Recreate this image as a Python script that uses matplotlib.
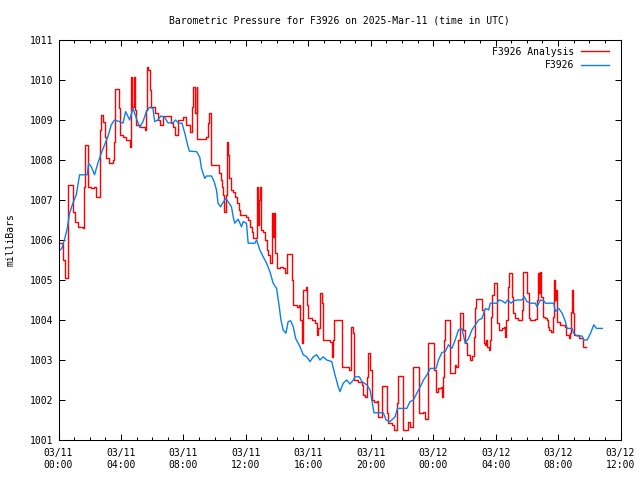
import numpy as np
import pandas as pd
import matplotlib
matplotlib.use("Agg")
import matplotlib.pyplot as plt
import matplotlib.dates as mdates

# hours after 2025-03-11 00:00 UTC, pressure in mb
obs_hours = [0.0, 0.21, 0.39, 0.56, 0.71, 0.92, 1.14, 1.35, 1.84, 1.93, 2.10, 2.31, 2.52, 2.74,
             2.95, 3.16, 3.38, 3.59, 3.91, 4.13, 4.30, 4.56, 4.77, 4.99, 5.20, 5.41, 5.63, 5.84,
             6.05, 6.16, 6.37, 6.55, 6.80, 7.01, 7.33, 7.49, 7.70, 7.91, 8.09, 8.30, 8.39, 8.84,
             9.05, 9.16, 9.37, 9.48, 9.80, 9.97, 10.12, 10.22, 10.38, 10.51, 10.72, 10.93, 11.08,
             11.19, 11.29, 11.51, 11.72, 11.83, 12.04, 12.15, 12.58, 12.69, 12.90, 13.11, 13.33,
             13.54, 13.75, 13.97, 14.14, 14.25, 14.39, 14.57, 14.71, 14.87, 15.04, 15.19, 15.47,
             15.68, 15.90, 16.11, 16.32, 16.54, 16.75, 16.96, 17.18, 17.50, 17.71, 17.92, 18.03,
             18.24, 18.46, 18.67, 18.89, 18.99, 19.27, 19.43, 19.75, 19.96, 20.07, 20.21, 20.81,
             20.98, 21.24, 21.56, 21.71, 22.31, 22.52, 22.74, 22.95, 23.17, 23.38, 23.60, 23.81,
             24.19, 24.34, 24.56, 24.77, 24.98, 25.20, 25.41, 25.62, 25.84, 26.05, 26.27, 26.48,
             26.70, 26.91, 27.13, 27.34, 27.55, 27.66, 28.09, 28.20, 28.41, 28.62, 28.77, 28.99,
             29.15, 29.37, 29.69, 29.84, 30.01, 30.22, 30.55, 30.65, 30.87, 31.08, 31.19, 31.72,
             31.83, 32.04, 32.26, 32.47, 32.58, 32.90, 33.00, 33.22, 33.54, 33.65, 33.86, 34.08,
             34.29, 34.46, 34.83]
obs_mb = [1005.71, 1005.79, 1006.02, 1006.29, 1006.67, 1006.92, 1007.13, 1007.63, 1007.63, 1007.92,
          1007.83, 1007.63, 1007.92, 1008.17, 1008.38, 1008.58, 1008.88, 1009.0, 1008.96, 1008.92,
          1009.21, 1009.0, 1009.29, 1009.04, 1008.82, 1008.96, 1009.21, 1009.32, 1009.29, 1008.96,
          1009.0, 1009.1, 1009.07, 1008.93, 1008.93, 1009.0, 1008.92, 1008.92, 1008.67, 1008.33,
          1008.22, 1008.21, 1008.07, 1007.79, 1007.54, 1007.6, 1007.6, 1007.46, 1007.25, 1006.92,
          1006.83, 1006.92, 1007.04, 1006.92, 1006.83, 1006.58, 1006.42, 1006.52, 1006.33, 1006.46,
          1006.42, 1005.92, 1005.92, 1006.0, 1005.75, 1005.58, 1005.42, 1005.21, 1004.92, 1004.79,
          1004.33, 1004.0, 1003.75, 1003.67, 1003.96, 1003.98, 1003.83, 1003.54, 1003.33, 1003.13,
          1003.08, 1002.96, 1003.08, 1003.13, 1003.0, 1003.08, 1003.0, 1002.96, 1002.63, 1002.33,
          1002.21, 1002.42, 1002.5, 1002.4, 1002.5, 1002.58, 1002.58, 1002.46, 1002.38, 1002.25,
          1002.0, 1001.68, 1001.68, 1001.5, 1001.46, 1001.58, 1001.79, 1001.79, 1001.96, 1002.0,
          1002.17, 1002.33, 1002.5, 1002.63, 1002.79, 1002.79, 1003.0, 1003.19, 1003.21, 1003.38,
          1003.29, 1003.5, 1003.75, 1003.79, 1003.42, 1003.54, 1003.75, 1003.88, 1004.0, 1004.04,
          1004.29, 1004.25, 1004.42, 1004.42, 1004.5, 1004.48, 1004.42, 1004.5, 1004.42, 1004.48,
          1004.5, 1004.5, 1004.58, 1004.46, 1004.42, 1004.42, 1004.33, 1004.5, 1004.48, 1004.42,
          1004.42, 1004.21, 1004.29, 1004.17, 1003.96, 1003.79, 1003.79, 1003.67, 1003.6, 1003.6,
          1003.5, 1003.5, 1003.67, 1003.88, 1003.79, 1003.79]

ana_hours = [0.0, 0.19, 0.26, 0.39, 0.55, 0.60, 0.81, 0.92, 1.03, 1.24, 1.56, 1.62, 1.67, 1.82,
             1.88, 2.10, 2.27, 2.42, 2.57, 2.63, 2.74, 2.84, 2.95, 3.06, 3.23, 3.48, 3.55, 3.59,
             3.81, 3.85, 3.91, 4.13, 4.34, 4.56, 4.67, 4.73, 4.81, 4.88, 4.99, 5.20, 5.47, 5.56,
             5.63, 5.67, 5.73, 5.84, 5.95, 6.16, 6.37, 6.48, 6.69, 7.01, 7.23, 7.33, 7.49, 7.66,
             7.87, 7.98, 8.19, 8.41, 8.52, 8.62, 8.73, 8.84, 8.90, 9.37, 9.48, 9.59, 9.63, 9.74,
             10.02, 10.27, 10.38, 10.48, 10.54, 10.61, 10.72, 10.80, 10.87, 10.93, 11.02, 11.19,
             11.29, 11.44, 11.55, 11.61, 12.04, 12.15, 12.26, 12.37, 12.43, 12.58, 12.69, 12.75,
             12.84, 12.88, 12.94, 13.11, 13.22, 13.33, 13.43, 13.54, 13.65, 13.71, 13.80, 13.86,
             13.97, 14.18, 14.39, 14.50, 14.61, 14.65, 14.87, 14.93, 15.04, 15.25, 15.40, 15.47,
             15.57, 15.68, 15.85, 15.90, 16.00, 16.22, 16.43, 16.54, 16.64, 16.75, 16.86, 16.96,
             17.18, 17.39, 17.50, 17.60, 17.67, 18.03, 18.14, 18.46, 18.63, 18.72, 18.85, 18.93,
             19.21, 19.43, 19.53, 19.64, 19.75, 19.85, 19.96, 20.07, 20.21, 20.39, 20.49, 20.71,
             20.98, 21.07, 21.13, 21.35, 21.50, 21.67, 21.77, 21.99, 22.09, 22.27, 22.41, 22.52,
             22.70, 23.06, 23.12, 23.38, 23.49, 23.64, 23.70, 23.98, 24.07, 24.19, 24.34, 24.49,
             24.56, 24.62, 24.71, 24.77, 24.98, 25.05, 25.24, 25.37, 25.48, 25.56, 25.62, 25.69,
             25.90, 25.94, 26.05, 26.16, 26.37, 26.48, 26.59, 26.70, 26.76, 27.02, 27.13, 27.23,
             27.34, 27.38, 27.45, 27.55, 27.66, 27.70, 27.77, 27.87, 28.04, 28.09, 28.20, 28.41,
             28.56, 28.62, 28.68, 28.77, 28.83, 28.94, 29.05, 29.11, 29.26, 29.41, 29.63, 29.69,
             29.76, 29.97, 30.01, 30.12, 30.22, 30.55, 30.65, 30.69, 30.76, 30.82, 30.91, 31.02,
             31.19, 31.30, 31.36, 31.44, 31.57, 31.66, 31.72, 31.79, 31.85, 31.94, 32.15, 32.36,
             32.47, 32.54, 32.68, 32.79, 32.84, 32.90, 32.97, 33.05, 33.22, 33.33, 33.48, 33.58,
             33.80]
ana_mb = [1005.93, 1005.93, 1005.5, 1005.05, 1005.05, 1007.38, 1007.38, 1006.71, 1006.46, 1006.33,
          1006.29, 1007.33, 1008.38, 1008.38, 1007.33, 1007.3, 1007.33, 1007.08, 1007.08, 1008.75,
          1009.13, 1008.96, 1008.58, 1008.04, 1007.93, 1008.0, 1008.46, 1009.77, 1009.77, 1009.29,
          1008.63, 1008.58, 1008.5, 1008.33, 1010.08, 1009.33, 1010.08, 1009.25, 1008.88, 1008.83,
          1008.83, 1008.75, 1009.25, 1010.33, 1010.25, 1009.75, 1009.33, 1009.17, 1009.0, 1008.88,
          1009.1, 1009.1, 1008.92, 1008.83, 1008.63, 1009.0, 1009.0, 1009.08, 1008.88, 1008.71,
          1009.33, 1009.83, 1009.17, 1009.83, 1008.52, 1008.52, 1008.58, 1008.92, 1009.17, 1007.88,
          1007.88, 1007.67, 1007.5, 1007.33, 1007.13, 1006.71, 1007.13, 1008.46, 1008.13, 1007.54,
          1007.25, 1007.21, 1007.08, 1006.92, 1006.75, 1006.63, 1006.58, 1006.5, 1006.33, 1006.21,
          1006.04, 1006.04, 1007.32, 1006.38, 1007.0, 1007.32, 1006.25, 1006.21, 1006.0, 1005.75,
          1005.63, 1005.42, 1006.67, 1006.08, 1006.67, 1005.67, 1005.29, 1005.33, 1005.29, 1005.17,
          1005.38, 1005.65, 1005.65, 1005.0, 1004.38, 1004.33, 1004.38, 1004.0, 1003.42, 1004.75,
          1004.82, 1004.38, 1004.04, 1004.0, 1003.92, 1003.63, 1003.79, 1004.67, 1004.42, 1003.5,
          1003.5, 1003.46, 1003.08, 1003.5, 1004.0, 1004.0, 1002.83, 1002.82, 1002.75, 1003.82,
          1003.67, 1002.5, 1002.46, 1002.38, 1002.13, 1002.08, 1002.58, 1003.17, 1002.75, 1002.0,
          1001.96, 1001.98, 1001.58, 1002.35, 1002.35, 1001.67, 1001.42, 1001.38, 1001.25, 1001.92,
          1002.6, 1002.6, 1001.25, 1001.25, 1001.46, 1001.33, 1002.82, 1002.82, 1001.67, 1001.71,
          1001.52, 1001.52, 1003.42, 1003.42, 1002.75, 1002.21, 1002.29, 1002.33, 1002.08, 1002.58,
          1003.5, 1004.0, 1004.0, 1002.67, 1002.67, 1002.88, 1002.83, 1003.08, 1003.5, 1004.17,
          1004.17, 1003.75, 1003.42, 1003.13, 1003.0, 1003.1, 1003.58, 1004.29, 1004.52, 1004.52,
          1004.25, 1003.42, 1003.38, 1003.5, 1003.33, 1003.25, 1003.5, 1004.08, 1004.63, 1004.92,
          1004.92, 1003.92, 1003.75, 1003.79, 1003.83, 1003.58, 1004.0, 1004.83, 1005.17, 1005.17,
          1004.58, 1004.17, 1004.04, 1004.0, 1004.0, 1004.25, 1005.19, 1005.19, 1004.67, 1004.04,
          1004.0, 1004.02, 1004.5, 1005.17, 1004.67, 1005.19, 1004.58, 1004.08, 1004.04, 1004.0,
          1003.83, 1003.75, 1003.71, 1004.08, 1005.0, 1004.5, 1004.75, 1003.96, 1003.88, 1003.88,
          1003.83, 1003.63, 1003.54, 1003.67, 1004.21, 1004.75, 1004.17, 1003.63, 1003.63, 1003.54,
          1003.54, 1003.33, 1003.33]

start = pd.Timestamp("2025-03-11 00:00")
obs_t = start + pd.to_timedelta(obs_hours, unit="h")
ana_t = start + pd.to_timedelta(ana_hours, unit="h")

plt.rcParams['font.family'] = ['DejaVu Sans Mono']
plt.rcParams['font.size'] = 7

fig = plt.figure(figsize=(6.4, 4.8), dpi=100)
ax = fig.add_axes([58.5 / 640, 40 / 480, 562 / 640, 400 / 480])

ax.plot(ana_t, ana_mb, color='#ff0000', lw=1.0, drawstyle='steps-post', label='F3926 Analysis')
ax.plot(obs_t, obs_mb, color='#0a7ff0', lw=1.0, label='F3926')

ax.set_xlim(start, start + pd.Timedelta(hours=36))
ax.set_ylim(1001, 1011)
ax.set_yticks(np.arange(1001, 1012, 1))
ax.xaxis.set_major_locator(mdates.HourLocator(byhour=[0, 4, 8, 12, 16, 20]))
ax.xaxis.set_minor_locator(mdates.HourLocator())
ax.xaxis.set_major_formatter(mdates.DateFormatter('%m/%d\n%H:%M'))

ax.tick_params(which='both', direction='in', top=True, right=True, width=0.75, colors='black')
ax.tick_params(which='major', length=4)
ax.tick_params(which='minor', length=2.2)
ax.tick_params(axis='x', pad=6)
ax.tick_params(axis='y', pad=4)
for s in ax.spines.values():
    s.set_linewidth(0.75)

ax.set_ylabel('milliBars', labelpad=10)
ax.set_title('Barometric Pressure for F3926 on 2025-Mar-11 (time in UTC)', fontsize=7, pad=12)

ax.legend(loc='upper right', frameon=False, markerfirst=False, handlelength=2.9,
          handletextpad=0.7, labelspacing=0.35, borderaxespad=0.3,
          bbox_to_anchor=(0.992, 1.0))

fig.savefig('out.png', dpi=100)
